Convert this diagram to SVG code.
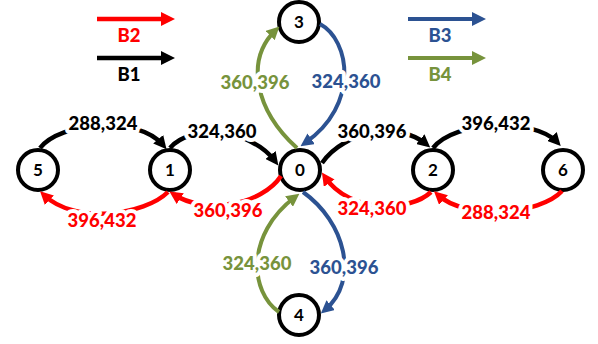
<svg xmlns="http://www.w3.org/2000/svg" width="598" height="344" viewBox="0 0 598 344">
<style>
.n circle{fill:#fff;stroke:#000;stroke-width:4}
.n text{font-family:Lato,"Open Sans","Liberation Sans",sans-serif;font-weight:bold;font-size:17px;text-anchor:middle;fill:#000}
.e{fill:none;stroke-width:4.5}
.k{stroke:#000}.r{stroke:#ff0000}.g{stroke:#77933c;stroke-width:4}.b{stroke:#2c5292;stroke-width:4}
.lb{font-family:Lato,"Open Sans","Liberation Sans",sans-serif;font-weight:900;font-size:18.5px;text-anchor:middle;paint-order:stroke;stroke:#fff;stroke-width:8;stroke-linejoin:round}
.tk{fill:#000}.tr{fill:#ff0000}.tg{fill:#77933c}.tb{fill:#2c5292}
</style>
<defs>
<marker id="ak" markerUnits="userSpaceOnUse" viewBox="0 0 13 13" markerWidth="13" markerHeight="13" refX="7.5" refY="6.5" orient="auto"><path d="M0,0L13,6.5L0,13z" fill="#000"/></marker>
<marker id="ar" markerUnits="userSpaceOnUse" viewBox="0 0 13 13" markerWidth="13" markerHeight="13" refX="7.5" refY="6.5" orient="auto"><path d="M0,0L13,6.5L0,13z" fill="#ff0000"/></marker>
<marker id="ag" markerUnits="userSpaceOnUse" viewBox="0 0 13 13" markerWidth="13" markerHeight="13" refX="7.5" refY="6.5" orient="auto"><path d="M0,0L13,6.5L0,13z" fill="#77933c"/></marker>
<marker id="ab" markerUnits="userSpaceOnUse" viewBox="0 0 13 13" markerWidth="13" markerHeight="13" refX="7.5" refY="6.5" orient="auto"><path d="M0,0L13,6.5L0,13z" fill="#2c5292"/></marker>
<marker id="lk" markerUnits="userSpaceOnUse" viewBox="0 0 14 14" markerWidth="14" markerHeight="14" refX="7" refY="7" orient="auto"><path d="M0,0L14,7L0,14z" fill="#000"/></marker>
<marker id="lr" markerUnits="userSpaceOnUse" viewBox="0 0 14 14" markerWidth="14" markerHeight="14" refX="7" refY="7" orient="auto"><path d="M0,0L14,7L0,14z" fill="#ff0000"/></marker>
<marker id="lg" markerUnits="userSpaceOnUse" viewBox="0 0 14 14" markerWidth="14" markerHeight="14" refX="7" refY="7" orient="auto"><path d="M0,0L14,7L0,14z" fill="#77933c"/></marker>
<marker id="lb" markerUnits="userSpaceOnUse" viewBox="0 0 14 14" markerWidth="14" markerHeight="14" refX="7" refY="7" orient="auto"><path d="M0,0L14,7L0,14z" fill="#2c5292"/></marker>
</defs>
<rect width="598" height="344" fill="#fff"/>
<g id="legend">
<path class="e r" d="M97,19H168" marker-end="url(#lr)"/>
<text class="lb tr" x="129" y="42">B2</text>
<path class="e k" d="M97,58H168" marker-end="url(#lk)"/>
<text class="lb tk" x="129" y="81">B1</text>
<path class="e b" d="M408,19H479" marker-end="url(#lb)"/>
<text class="lb tb" x="440" y="42">B3</text>
<path class="e g" d="M408,58H479" marker-end="url(#lg)"/>
<text class="lb tg" x="440" y="81">B4</text>
</g>
<g id="nodes">
<g id="n5" class="n"><circle cx="38" cy="170" r="20"/><text x="38" y="176">5</text></g>
<g id="n1" class="n"><circle cx="170" cy="170" r="20"/><text x="170" y="176">1</text></g>
<g id="n0" class="n"><circle cx="300" cy="170" r="20"/><text x="300" y="176">0</text></g>
<g id="n2" class="n"><circle cx="433" cy="170" r="20"/><text x="433" y="176">2</text></g>
<g id="n6" class="n"><circle cx="563" cy="170" r="20"/><text x="563" y="176">6</text></g>
<g id="n3" class="n"><circle cx="299" cy="22" r="20"/><text x="299" y="28">3</text></g>
<g id="n4" class="n"><circle cx="299" cy="315" r="20"/><text x="299" y="321">4</text></g>
</g>
<g id="connectors">
<path class="e k" d="M40,148C60,122 138,115 163,145" marker-end="url(#ak)"/>
<path class="e k" d="M170,148C190,124 250,128 275,161" marker-end="url(#ak)"/>
<path class="e k" d="M322,163C345,130 400,122 426,144" marker-end="url(#ak)"/>
<path class="e k" d="M433,148C455,120 535,118 557,142" marker-end="url(#ak)"/>
<path class="e r" d="M562,191C540,215 465,220 438,195" marker-end="url(#ar)"/>
<path class="e r" d="M431,192C410,212 350,214 325,177" marker-end="url(#ar)"/>
<path class="e r" d="M281,176C262,205 205,215 174,194.5" marker-end="url(#ar)"/>
<path class="e r" d="M168,192C145,215 75,225 44,195" marker-end="url(#ar)"/>
<path class="e g" d="M297,148C255,110 245,60 275.5,30.3" marker-end="url(#ag)"/>
<path class="e b" d="M320,24C350,40 360,105 305,143" marker-end="url(#ab)"/>
<path class="e g" d="M279,312C250,292 245,235 295,197" marker-end="url(#ag)"/>
<path class="e b" d="M303,192C345,222 360,280 325,310" marker-end="url(#ab)"/>
</g>
<g id="labels">
<text class="lb tk" x="103" y="130">288,324</text>
<text class="lb tk" x="222" y="138">324,360</text>
<text class="lb tk" x="372" y="138">360,396</text>
<text class="lb tk" x="496" y="130">396,432</text>
<text class="lb tr" x="102" y="227">396,432</text>
<text class="lb tr" x="228" y="217">360,396</text>
<text class="lb tr" x="372" y="215">324,360</text>
<text class="lb tr" x="496" y="219">288,324</text>
<text class="lb tg" x="255" y="89">360,396</text>
<text class="lb tb" x="346" y="88">324,360</text>
<text class="lb tg" x="257" y="270">324,360</text>
<text class="lb tb" x="344" y="274">360,396</text>
</g>
</svg>
